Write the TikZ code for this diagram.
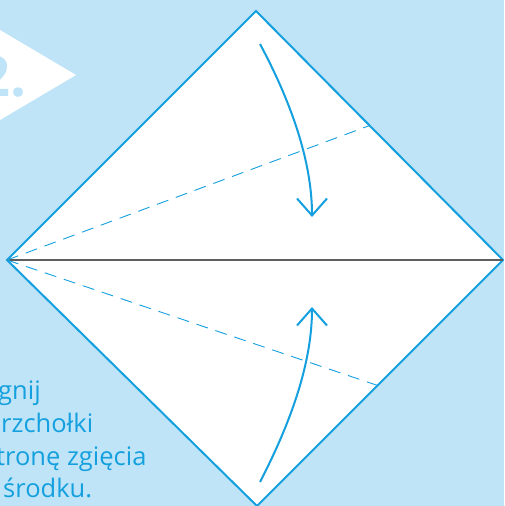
\documentclass[tikz,border=0pt]{standalone}
\usepackage{fontspec}
\setmainfont{Open Sans}
\usetikzlibrary{arrows.meta,calc}
\definecolor{skyblue}{HTML}{BFE4F7}
\definecolor{foldblue}{HTML}{14A0DE}
\definecolor{creasegray}{HTML}{5E5E5E}

\begin{document}
\begin{tikzpicture}[x=1pt,y=-1pt,
  edge/.style={draw=foldblue,line width=2pt,line join=miter},
  valley/.style={foldblue,line width=0.9pt,dash pattern=on 12pt off 8pt},
  fold/.style={foldblue,line width=2pt,-{Straight Barb[length=17pt,width=30pt]}},
  hint/.style={anchor=base west,inner sep=0pt,text=foldblue,font=\fontsize{25.5}{32}\selectfont}]
  \fill[skyblue] (0,0) rectangle (504,506);
  \useasboundingbox (0,0) rectangle (504,506);
  \clip (0,0) rectangle (504,506);
  % step badge
  \fill[white] (0,30) -- (76,75) -- (0,120) -- cycle;
  \node[anchor=base west,inner sep=0pt,text=skyblue,font=\fontsize{56}{60}\selectfont\bfseries] (number) at (-22,96) {2.};
  % the square, corner up
  \coordinate (top) at (256,11);
  \coordinate (right) at (503,260);
  \coordinate (bottom) at (257,506);
  \coordinate (left) at (7,260);
  \filldraw[fill=white,edge] (top) -- (right) -- (bottom) -- (left) -- cycle;
  \draw[creasegray,line width=1.4pt] (left) -- (right);
  \coordinate (upcut) at ($(top)!0.46!(right)$);
  \coordinate (lowcut) at ($(right)!0.51!(bottom)$);
  \draw[valley] (left) -- (upcut);
  \draw[valley] (left) -- (lowcut);
  % fold arrows
  \coordinate (topstart) at (260,44);
  \coordinate (topend) at (312,217);
  \coordinate (lowstart) at (260,482);
  \coordinate (lowend) at (312,307);
  \draw[fold] (topstart) .. controls +(30,56) and +(0,-57) .. (topend);
  \draw[fold] (lowstart) .. controls +(30,-58) and +(0,57) .. (lowend);
  % instruction
  \node[hint] (line1) at (-2,399) {gnij};
  \node[hint] (line2) at (1,432) {rzchołki};
  \node[hint] (line3) at (-4,465) {tronę zgięcia};
  \node[hint] (line4) at (3,497) {środku.};
\end{tikzpicture}
\end{document}
